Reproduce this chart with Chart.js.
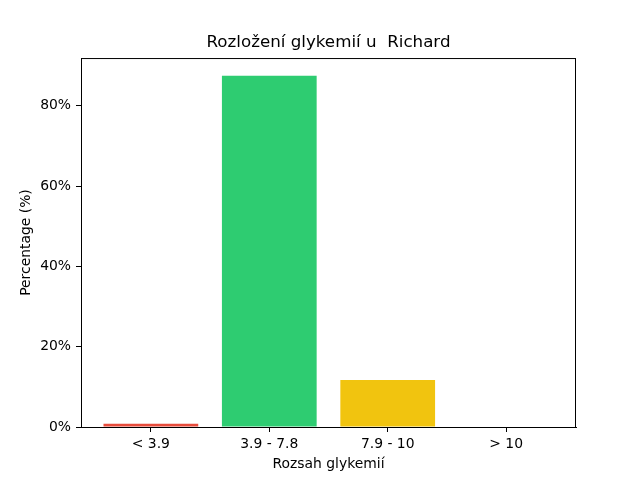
<!DOCTYPE html>
<html>
<head>
<meta charset="UTF-8">
<title>Rozložení glykemií</title>
<script src="https://cdn.jsdelivr.net/npm/chart.js"></script>
<style>
  body { margin: 0; background: #fff; }
  #wrap { width: 640px; height: 480px; }
</style>
</head>
<body>
<div id="wrap"><canvas id="chart" width="640" height="480"></canvas></div>
<script>
// data
const ranges = ['< 3.9', '3.9 - 7.8', '7.9 - 10', '> 10'];
const percentages = [0.8, 87.5, 11.7, 0];
const barColors = ['#e74c3c', '#2ecc71', '#f1c40f', '#e67e22'];
const yTicks = [0, 20, 40, 60, 80];
const yMax = 91.9;

const font = 'DejaVu Sans';

// draws the top and right spines like matplotlib
const frame = {
  id: 'frame',
  afterDraw(chart) {
    const a = chart.chartArea, ctx = chart.ctx;
    ctx.save();
    ctx.strokeStyle = '#000';
    ctx.lineWidth = 1;
    ctx.strokeRect(a.left + 0.5, a.top + 0.5, a.right - a.left - 1, a.bottom - a.top);
    ctx.restore();
  }
};

new Chart(document.getElementById('chart'), {
  type: 'bar',
  data: {
    datasets: [{
      data: percentages.map((v, i) => ({ x: i, y: v })),
      backgroundColor: barColors,
      borderWidth: 0,
      inflateAmount: 0,
      barPercentage: 0.8,
      categoryPercentage: 1
    }]
  },
  options: {
    responsive: false,
    animation: false,
    layout: { padding: { left: 0, right: 64, top: 0, bottom: 0 } },
    plugins: {
      legend: { display: false },
      tooltip: { enabled: false },
      title: {
        display: true,
        fullSize: false,
        text: 'Rozložení glykemií u  Richard',
        color: '#000',
        font: { family: font, size: 16.7, weight: 'normal' },
        padding: { top: 33, bottom: 5 }
      }
    },
    scales: {
      x: {
        type: 'linear',
        offset: false,
        min: -0.59,
        max: 3.59,
        afterBuildTicks(s) { s.ticks = ranges.map((r, i) => ({ value: i })); },
        afterFit(s) { s.height = 53; },
        ticks: {
          color: '#000',
          font: { family: font, size: 13.9 },
          padding: 4,
          callback: (v) => ranges[v]
        },
        grid: { offset: false, drawOnChartArea: false, drawTicks: true, tickLength: 5, color: '#000' },
        border: { display: true, color: '#000' },
        title: {
          display: true,
          text: 'Rozsah glykemií',
          color: '#000',
          font: { family: font, size: 13.9 },
          padding: { top: 2, bottom: 7 }
        }
      },
      y: {
        min: 0,
        max: yMax,
        afterBuildTicks(s) { s.ticks = yTicks.map(v => ({ value: v })); },
        afterFit(s) { s.width = 81; },
        ticks: {
          color: '#000',
          font: { family: font, size: 13.9 },
          padding: 5,
          callback: (v) => v + '%'
        },
        grid: { drawOnChartArea: false, drawTicks: true, tickLength: 5, color: '#000' },
        border: { display: true, color: '#000' },
        title: {
          display: true,
          text: 'Percentage (%)',
          color: '#000',
          font: { family: font, size: 13.9 },
          padding: { top: 18, bottom: 4 }
        }
      }
    }
  },
  plugins: [frame]
});
</script>
</body>
</html>
